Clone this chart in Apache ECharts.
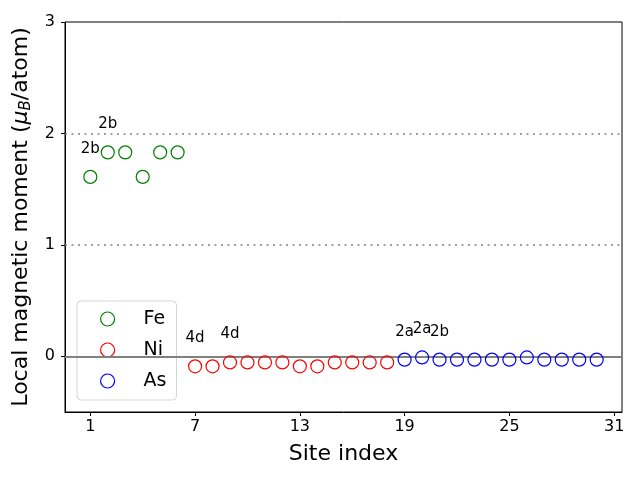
<!DOCTYPE html>
<html><head><meta charset="utf-8">
<script src="https://cdn.jsdelivr.net/npm/echarts@6/dist/echarts.min.js"></script>
<style>html,body{margin:0;padding:0;background:#fff}#c{width:640px;height:480px}</style>
</head><body><div id="c"></div>
<script>
const feSites = [1,2,3,4,5,6];
const feValues = [1.61,1.83,1.83,1.61,1.83,1.83];
const niSites = [7,8,9,10,11,12,13,14,15,16,17,18];
const niValues = [-0.09,-0.09,-0.055,-0.055,-0.055,-0.055,-0.09,-0.09,-0.055,-0.055,-0.055,-0.055];
const asSites = [19,20,21,22,23,24,25,26,27,28,29,30];
const asValues = [-0.03,-0.01,-0.03,-0.03,-0.03,-0.03,-0.03,-0.01,-0.03,-0.03,-0.03,-0.03];
const xTicks = [1,7,13,19,25,31];
const yTicks = [0,1,2,3];
const annotations = [[1,'2b'],[2,'2b'],[7,'4d'],[9,'4d'],[19,'2a'],[20,'2a'],[21,'2b']];
const refLines = [0,1,2];

const allSites = feSites.concat(niSites, asSites);
const allValues = feValues.concat(niValues, asValues);
const FONT = 'DejaVu Sans';

function pts(s, v){ return s.map((x,i)=>[x, v[i]]); }
const annData = annotations.map(([s,t]) => ({value:[s, allValues[allSites.indexOf(s)]], name:t}));

const chart = echarts.init(document.getElementById('c'), null, {renderer:'canvas'});
const ser = (name, color, s, v) => ({
  name, type:'scatter', data: pts(s,v), symbol:'circle', symbolSize:13,
  itemStyle:{color:'rgba(0,0,0,0)', borderColor:color, borderWidth:1.2, opacity:1}, z:5
});
chart.setOption({
  animation:false,
  textStyle:{fontFamily:FONT},
  grid:{left:65, right:18, top:22, bottom:68, show:true, borderColor:'#000', borderWidth:1},
  legend:{
    left:77, top:301, orient:'vertical', itemGap:10, padding:[7.5,10,8.5,23],
    backgroundColor:'rgba(255,255,255,0.8)', borderColor:'#d5d5d5', borderWidth:1, borderRadius:4,
    itemWidth:14, itemHeight:14, itemStyle:{borderWidth:1.2, opacity:1},
    textStyle:{fontSize:19, lineHeight:21, color:'#000', fontFamily:FONT, padding:[0,0,0,24]},
    data:['Fe','Ni','As']
  },
  xAxis:{
    type:'value', min:-0.45, max:31.45,
    name:'Site index', nameLocation:'middle', nameGap:31,
    nameTextStyle:{fontSize:22, color:'#000', fontFamily:FONT},
    axisLine:{show:true, onZero:false, lineStyle:{color:'#000'}},
    axisTick:{show:true, customValues:xTicks, length:4, lineStyle:{color:'#000'}},
    axisLabel:{customValues:xTicks, fontSize:16, color:'#000', margin:7, fontFamily:FONT},
    splitLine:{show:false}
  },
  yAxis:{
    type:'value', min:-0.5, max:3,
    name:'{a|Local magnetic moment (}{i|μ}{s|B}{a|/atom)}', nameLocation:'middle', nameGap:31,
    nameTextStyle:{fontSize:22, color:'#000', fontFamily:FONT,
      rich:{a:{fontSize:22, fontFamily:FONT, color:'#000'}, i:{fontSize:22, fontStyle:'italic', fontFamily:FONT, color:'#000'},
            s:{fontSize:15, fontStyle:'italic', fontFamily:FONT, color:'#000', padding:[10,0,0,0]}}},
    axisLine:{show:true, onZero:false, lineStyle:{color:'#000'}},
    axisTick:{show:true, customValues:yTicks, length:4, lineStyle:{color:'#000'}},
    axisLabel:{customValues:yTicks, fontSize:16, color:'#000', margin:10, fontFamily:FONT},
    splitLine:{show:false}
  },
  series:[
    Object.assign(ser('Fe','#008000',feSites,feValues), {
      markLine:{silent:true, symbol:'none', label:{show:false},
        data: refLines.map(v=>({yAxis:v, lineStyle:{color:'#808080', width: v===0?2:1.5, type: v===0?'solid':[2,4.5], opacity:1}}))}
    }),
    ser('Ni','#ff0000',niSites,niValues),
    ser('As','#0000ff',asSites,asValues),
    {type:'scatter', name:'ann', symbolSize:0, data:annData, z:6, silent:true, itemStyle:{opacity:1},
     label:{show:true, position:'inside', offset:[0,-28], formatter:p=>p.name, fontSize:15, color:'#000', opacity:1, fontFamily:FONT}}
  ]
});
</script></body></html>
